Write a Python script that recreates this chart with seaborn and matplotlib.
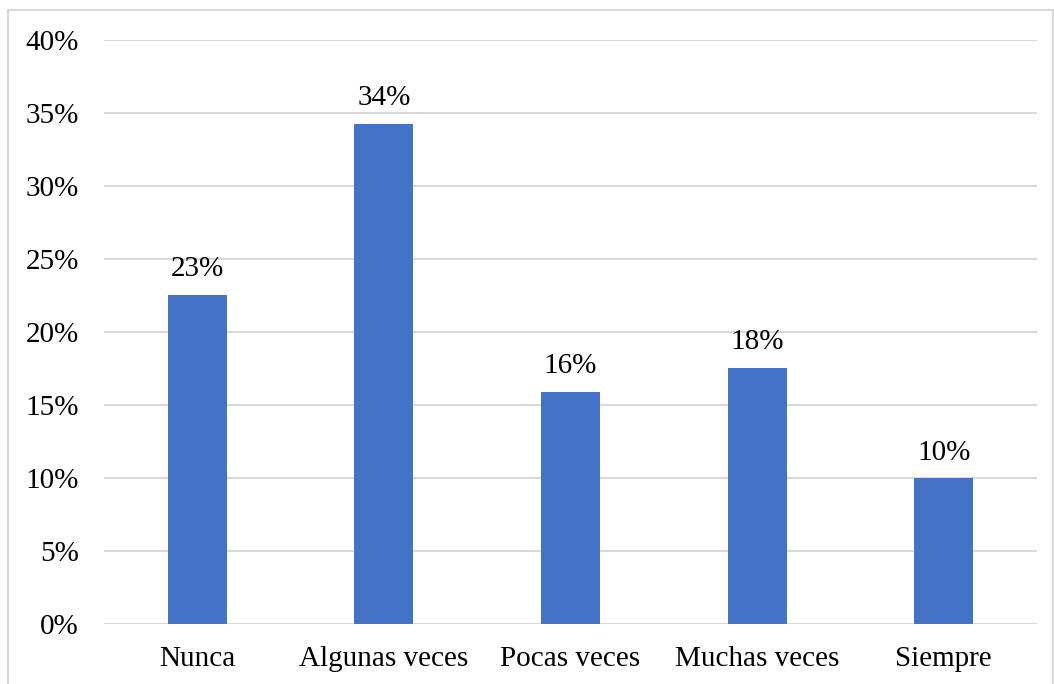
import matplotlib
matplotlib.use("Agg")
import matplotlib.pyplot as plt
import seaborn as sns
import pandas as pd
from matplotlib.patches import Rectangle

categories = ["Nunca", "Algunas veces", "Pocas veces", "Muchas veces", "Siempre"]
values = [22.55, 34.25, 15.9, 17.55, 10.0]
y_ticks = [0, 5, 10, 15, 20, 25, 30, 35, 40]

sns.set_theme(style="white")
plt.rcParams["font.family"] = ["Liberation Serif", "DejaVu Serif"]

df = pd.DataFrame({"categoria": categories, "porcentaje": values})

fig = plt.figure(figsize=(10.54, 6.84), dpi=100)
ax = fig.add_axes([104 / 1054, 1 - 624 / 684, (1037 - 104) / 1054, (624 - 40) / 684])

sns.barplot(data=df, x="categoria", y="porcentaje", color="#4472C4",
            width=0.316, saturation=1, linewidth=0, ax=ax, zorder=3)

ax.set_ylim(0, 40)
ax.set_yticks(y_ticks)
ax.set_yticklabels([f"{t}%" for t in y_ticks])
ax.yaxis.grid(True, color="#d9d9d9", linewidth=1.5, zorder=0)
ax.set_axisbelow(True)
for s in ax.spines.values():
    s.set_visible(False)
ax.tick_params(axis="both", length=0, labelsize=21, colors="black")
ax.tick_params(axis="y", pad=18)
ax.tick_params(axis="x", pad=16)
ax.set_xlabel("")
ax.set_ylabel("")

for i, v in enumerate(values):
    ax.annotate(f"{round(v)}%", xy=(i, v), xytext=(0, 9), textcoords="offset points",
                ha="center", va="bottom", fontsize=21, color="black")

fig.patches.append(Rectangle((8 / 1054, -0.05), 1045 / 1054, 1 - 10 / 684 + 0.05,
                             transform=fig.transFigure, fill=False,
                             edgecolor="#d9d9d9", linewidth=1.5))

fig.savefig("out.png", dpi=100)
